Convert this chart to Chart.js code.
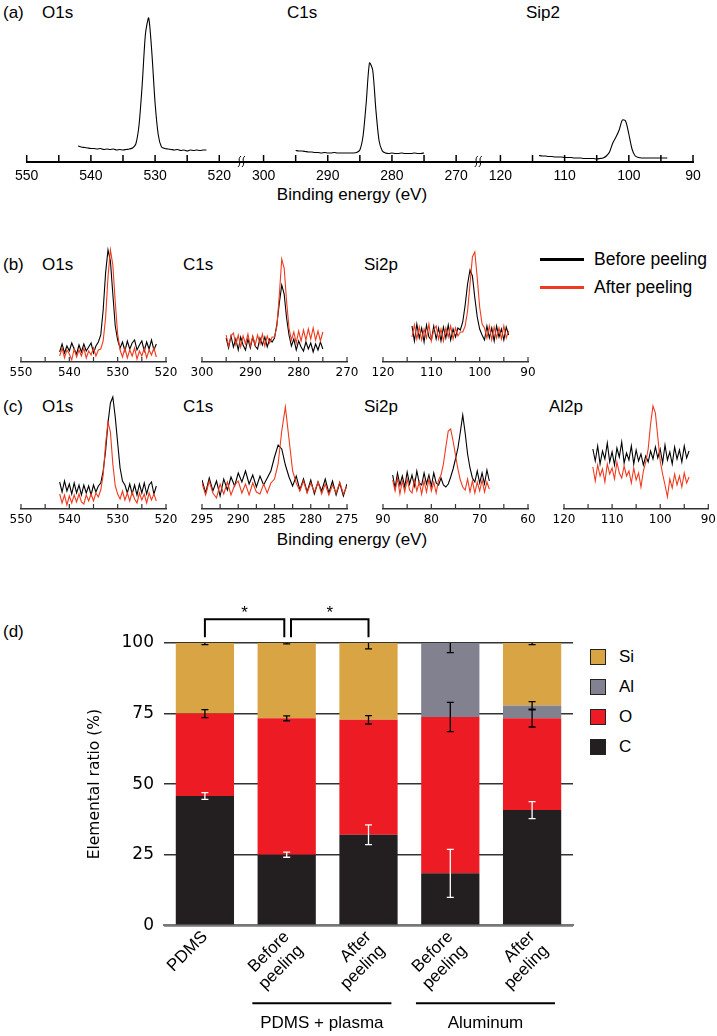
<!DOCTYPE html>
<html>
<head>
<meta charset="utf-8">
<script src="https://cdn.jsdelivr.net/npm/chart.js@4.4.0/dist/chart.umd.min.js"></script>
<style>
  html, body { margin: 0; padding: 0; background: #fff; }
  #page { position: relative; width: 717px; height: 1036px; overflow: hidden;
          font-family: "Liberation Sans", Arial, sans-serif; color: #000; }
  #page canvas { position: absolute; }
  .t { position: absolute; font-size: 17px; line-height: 20px; white-space: nowrap; }
  .c { text-align: center; width: 200px; }
  .ln { position: absolute; width: 44px; height: 3px; }
  .sw { position: absolute; width: 14px; height: 14px; border: 1px solid #222; }
</style>
</head>
<body>
<div id="page">
  <!-- (a) -->
  <div class="t" style="left:3px;top:3px">(a)</div>
  <div class="t" style="left:42px;top:3px">O1s</div>
  <div class="t" style="left:287px;top:3px">C1s</div>
  <div class="t" style="left:526px;top:3px">Sip2</div>
  <div class="t c" style="left:252px;top:185px">Binding energy (eV)</div>
  <!-- (b) -->
  <div class="t" style="left:3px;top:255px">(b)</div>
  <div class="t" style="left:42px;top:255px">O1s</div>
  <div class="t" style="left:183px;top:255px">C1s</div>
  <div class="t" style="left:364px;top:255px">Si2p</div>
  <div class="ln" style="left:540px;top:258px;background:#000"></div>
  <div class="ln" style="left:540px;top:286px;background:#ef3a1d"></div>
  <div class="t" style="left:594px;top:249px;font-size:17.5px;line-height:21px">Before peeling</div>
  <div class="t" style="left:594px;top:277px;font-size:17.5px;line-height:21px">After peeling</div>
  <!-- (c) -->
  <div class="t" style="left:3px;top:397px">(c)</div>
  <div class="t" style="left:42px;top:397px">O1s</div>
  <div class="t" style="left:183px;top:397px">C1s</div>
  <div class="t" style="left:364px;top:397px">Si2p</div>
  <div class="t" style="left:549px;top:397px">Al2p</div>
  <div class="t c" style="left:252px;top:530px">Binding energy (eV)</div>
  <!-- (d) -->
  <div class="t" style="left:3px;top:622px">(d)</div>
  <div class="sw" style="left:590px;top:649px;background:#d9a443"></div>
  <div class="sw" style="left:590px;top:679px;background:#81818f"></div>
  <div class="sw" style="left:590px;top:709px;background:#ed1c24"></div>
  <div class="sw" style="left:590px;top:739px;background:#231f20"></div>
  <div class="t" style="left:619px;top:647px">Si</div>
  <div class="t" style="left:619px;top:677px">Al</div>
  <div class="t" style="left:619px;top:707px">O</div>
  <div class="t" style="left:619px;top:737px">C</div>
</div>

<script>
// ---- spectra: intensities (a.u.), one value every STEP eV from the first energy down ----
const STEP = 0.5;

// (a) survey of PDMS
const aO1s  = [16,15,14.5,14,13.5,13.5,13,13.5,12.5,13, 12.5,13,12,12.5,12,12.5,13,14,18,37, 78,128,144,109,59,27,15,13.5,13,12.5, 12,12.5,11.5,12,11,12,11.5,12,11.5,12, 12];   // 542 -> 522
const aC1s  = [11.5,11,11,10.5,10,10,9.5,9.5,9,9.5, 9,9,9.5,9,9,9,9,9,9,9.5, 12,26,60,99,92,52,21,11,9,8.5, 9,8.5,8.5,9,8.5,8.5,8.5,9,8.5,8.5, 9];     // 295 -> 275
const aSi2p = [6.5,6,6,5.5,5.5,5,5,5,4.5,4.5, 4.5,4,4,4,3.5,3.5,3.5,3.5,3,3.5, 4,6,10,19,25,32,42,41,28,13, 6,4.5,4,4,4,4,4,4,4,4, 4];           // 114 -> 94

// (b) PDMS + plasma, before / after peeling
const bO1sBefore  = [10,18,9,16,11,19,13,8,17,10, 18,11,15,19,9,16,20,27,52,89, 112,101,68,36,22,14,20,11,21,13, 19,22,12,17,21,11,20,13,22,12, 18]; // 542 -> 522
const bO1sAfter   = [6,14,4,12,8,2,13,5,12,6, 14,4,11,7,14,6,12,13,21,44, 85,112,97,60,28,12,5,14,4,12, 6,14,3,11,6,14,4,12,7,14, 5];
const bC1sBefore  = [24,14,26,15,23,12,25,17,12,23, 14,25,16,13,24,17,25,15,23,20, 24,38,59,77,68,44,27,16,23,12, 21,15,11,20,13,19,10,18,12,20, 13]; // 295 -> 275
const bC1sAfter   = [27,16,26,29,17,27,15,26,18,28, 16,26,17,27,18,28,16,26,19,25, 25,36,67,103,94,61,34,22,30,19, 31,21,32,22,33,23,34,22,31,21, 30];
const bSi2pBefore = [36,21,38,24,34,20,37,25,22,36, 23,34,21,35,24,37,22,33,25,34, 32,40,57,78,92,86,64,45,33,27, 22,36,24,34,21,36,25,33,22,35, 27]; // 114 -> 94
const bSi2pAfter  = [25,37,23,35,22,33,24,38,21,32, 36,23,33,21,34,25,36,23,34,26, 30,30,36,51,78,105,110,84,55,38, 34,24,36,22,35,24,34,23,36,24, 31];

// (c) aluminum, before / after peeling
const cO1sBefore  = [27,17,28,18,25,15,26,16,24,14, 24,16,23,14,24,17,23,26,38,58, 86,106,112,92,66,41,28,24,16,25, 15,24,14,25,16,26,15,24,27,15, 23]; // 542 -> 522
const cO1sAfter   = [15,6,14,4,13,6,14,7,15,7, 5,14,8,15,8,16,12,19,34,65, 87,77,45,23,15,10,18,9,16,8, 17,10,6,16,9,15,6,16,9,15, 8];
const cC1sBefore  = [29,16,31,18,28,13,30,19,32,23, 36,27,38,25,34,22,33,24,31,38, 52,64,60,44,32,23,33,19,30,17, 29,15,27,18,30,16,28,14,26,13, 25]; // 295 -> 275
const cC1sAfter   = [26,14,28,16,11,25,15,27,14,24, 28,16,25,14,26,17,15,25,16,26, 30,45,78,102,70,38,26,18,28,16, 26,17,27,15,25,14,24,16,27,15, 23];
const cSi2pBefore = [34,21,36,24,33,22,37,25,34,23, 38,26,24,36,25,34,23,36,26,24, 31,24,22,25,32,40,50,61,77,94, 76,55,41,31,27,38,26,36,25,39, 28]; // 88 -> 68
const cSi2pAfter  = [29,18,31,15,28,17,30,19,16,29, 18,27,15,28,17,30,18,27,16,29, 34,45,62,78,80,68,54,40,29,22, 19,30,17,28,16,27,18,29,17,27, 20];
const cAl2pBefore = [60,48,63,45,58,50,66,47,57,44, 61,52,67,46,56,49,63,45,59,48, 55,44,53,47,58,50,62,51,60,46, 64,49,57,45,62,50,59,47,63,51, 58]; // 114 -> 94
const cAl2pAfter  = [42,28,44,33,40,27,45,35,41,30, 47,36,31,43,33,38,26,41,29,36, 22,38,47,60,85,103,96,72,48,35, 24,12,30,21,35,24,33,22,36,26, 32];

// ---- (d) elemental ratio (%) ----
const samples = ['PDMS', ['Before', 'peeling'], ['After', 'peeling'], ['Before', 'peeling'], ['After', 'peeling']];
const cPct  = [45.8, 25.0, 32.1, 18.4, 40.8];
const oPct  = [29.2, 48.3, 40.7, 55.4, 32.5];
const alPct = [0, 0, 0, 26.2, 4.6];
const siPct = [25.0, 26.7, 27.2, 0, 22.1];
const cErr  = [1.2, 0.9, 3.5, 8.5, 3.0];
const oErr  = [1.4, 0.85, 1.5, 5.2, 3.05];
const alErr = [0, 0, 0, 3.4, 1.3];
const siErr = [0.6, 0.3, 2.1, 0, 0.6];
const groups = [{label: 'PDMS + plasma', first: 1, last: 2}, {label: 'Aluminum', first: 3, last: 4}];
const signif = [[0, 1], [1, 2]];

const RED = '#ef3a1d';

Chart.defaults.font.family = '"Liberation Sans", Arial, sans-serif';
Chart.defaults.color = '#000';
Chart.defaults.animation = false;

const page = document.getElementById('page');
function makeCanvas(left, top, w, h) {
  const cv = document.createElement('canvas');
  cv.width = w; cv.height = h;
  cv.style.left = left + 'px';
  cv.style.top = top + 'px';
  page.appendChild(cv);
  return cv;
}
function toPoints(startE, values, map) {
  return values.map((v, i) => ({x: map(startE - i * STEP), y: v}));
}

// tick marks pointing up from the axis line
const upTicks = {
  id: 'upTicks',
  afterDraw(chart, args, opts) {
    const sc = chart.scales.x, ctx = chart.ctx;
    ctx.save();
    ctx.strokeStyle = opts.color;
    ctx.lineWidth = opts.width;
    sc.ticks.forEach(t => {
      const px = sc.getPixelForValue(t.value);
      ctx.beginPath();
      ctx.moveTo(px, sc.top);
      ctx.lineTo(px, sc.top - opts.len);
      ctx.stroke();
    });
    ctx.restore();
  }
};

// little squiggles where the survey axis is broken
const axisBreaks = {
  id: 'axisBreaks',
  afterDraw(chart, args, opts) {
    const sc = chart.scales.x, ctx = chart.ctx;
    ctx.save();
    ctx.strokeStyle = '#000';
    ctx.lineWidth = 1;
    opts.at.forEach(u => {
      const x = sc.getPixelForValue(u), y = sc.top;
      [-2, 2].forEach(dx => {
        ctx.beginPath();
        ctx.moveTo(x + dx + 1.5, y - 6);
        ctx.bezierCurveTo(x + dx - 3, y - 2, x + dx + 3, y + 1, x + dx - 1.5, y + 5);
        ctx.stroke();
      });
    });
    ctx.restore();
  }
};

// ---- (a) survey with a broken energy axis ----
const aSegments = [{hi: 550, lo: 520}, {hi: 300, lo: 270}, {hi: 120, lo: 90}];
const aGap = 6.9;
const aSpan = 30 + aGap;
function toU(e) {
  const k = aSegments.findIndex(s => e <= s.hi && e >= s.lo);
  return k * aSpan + (aSegments[k].hi - e);
}
function fromU(u) {
  const k = Math.min(2, Math.floor((u + 1e-6) / aSpan));
  return Math.round(aSegments[k].hi - (u - k * aSpan));
}
const aTicks = [];
aSegments.forEach((s, k) => { for (let e = 0; e <= 30; e += 5) aTicks.push(k * aSpan + e); });

new Chart(makeCanvas(0, 0, 717, 207), {
  type: 'line',
  data: {
    datasets: [
      {data: toPoints(542, aO1s, toU), borderColor: '#000'},
      {data: toPoints(295, aC1s, toU), borderColor: '#000'},
      {data: toPoints(114, aSi2p, toU), borderColor: '#000'}
    ]
  },
  options: {
    responsive: false,
    events: [],
    layout: {padding: {left: 26.7, right: 24, top: 10, bottom: 0}},
    elements: {point: {radius: 0}, line: {borderWidth: 1.1, tension: 0.25}},
    plugins: {
      legend: {display: false},
      tooltip: {enabled: false},
      upTicks: {len: 7, width: 1.5, color: '#000'},
      axisBreaks: {at: [30 + aGap / 2, 2 * aSpan - aGap / 2]}
    },
    scales: {
      x: {
        type: 'linear', min: 0, max: 2 * aSpan + 30,
        afterBuildTicks: s => { s.ticks = aTicks.map(v => ({value: v})); },
        afterFit: s => { s.height = 45; },
        grid: {display: false, drawTicks: false},
        border: {display: true, color: '#000', width: 2},
        ticks: {
          autoSkip: false, maxRotation: 0, padding: 5.6, font: {size: 14},
          callback: v => { const e = fromU(v); return e % 10 === 0 ? String(e) : ''; }
        }
      },
      y: {display: false, min: 0, max: 152}
    }
  },
  plugins: [upTicks, axisBreaks]
});

// ---- (b) and (c) small panels ----
function smallPanel(axisX, top, hiE, loE, minor, major, startE, before, after) {
  const padR = Math.min(20, 717 - axisX - 145);
  const cv = makeCanvas(axisX - 20, top, 20 + 145 + padR, 142);
  return new Chart(cv, {
    type: 'line',
    data: {
      datasets: [
        {data: toPoints(startE, after, e => e), borderColor: RED},
        {data: toPoints(startE, before, e => e), borderColor: '#000'}
      ]
    },
    options: {
      responsive: false,
      events: [],
      layout: {padding: {left: 20, right: padR, top: 0, bottom: 0}},
      elements: {point: {radius: 0}, line: {borderWidth: 1.1, tension: 0}},
      plugins: {
        legend: {display: false},
        tooltip: {enabled: false},
        upTicks: {len: 5, width: 1.2, color: '#333'}
      },
      scales: {
        x: {
          type: 'linear', reverse: true, min: loE, max: hiE,
          afterBuildTicks: s => {
            const t = [];
            for (let e = loE; e <= hiE + 1e-9; e += minor) t.push({value: e});
            s.ticks = t;
          },
          afterFit: s => { s.height = 22; },
          grid: {display: false, drawTicks: false},
          border: {display: true, color: '#333', width: 1.5},
          ticks: {
            autoSkip: false, maxRotation: 0, padding: 3.2,
            font: {family: '"DejaVu Sans"', size: 12},
            callback: v => Math.abs(v % major) < 1e-6 ? String(v) : ''
          }
        },
        y: {display: false, min: 0, max: 120}
      }
    },
    plugins: [upTicks]
  });
}

smallPanel(20.7, 242, 550, 520, 5, 10, 542, bO1sBefore, bO1sAfter);
smallPanel(201.7, 242, 300, 270, 5, 10, 295, bC1sBefore, bC1sAfter);
smallPanel(382.7, 242, 120, 90, 5, 10, 114, bSi2pBefore, bSi2pAfter);

smallPanel(20.7, 389, 550, 520, 5, 10, 542, cO1sBefore, cO1sAfter);
smallPanel(201.7, 389, 295, 275, 2.5, 5, 295, cC1sBefore, cC1sAfter);
smallPanel(382.7, 389, 90, 60, 5, 10, 88, cSi2pBefore, cSi2pAfter);
smallPanel(564.3, 389, 120, 90, 5, 10, 114, cAl2pBefore, cAl2pAfter);

// ---- (d) stacked bars ----
const errBars = {
  id: 'errBars',
  afterDatasetsDraw(chart, args, opts) {
    const ctx = chart.ctx, ys = chart.scales.y, a = chart.chartArea;
    const sets = chart.data.datasets;
    ctx.save();
    ctx.beginPath();
    ctx.rect(a.left, a.top, a.right - a.left, a.bottom - a.top);
    ctx.clip();
    ctx.lineWidth = 1.3;
    opts.errors.forEach((errs, i) => {
      const meta = chart.getDatasetMeta(i);
      ctx.strokeStyle = opts.colors[i];
      meta.data.forEach((bar, j) => {
        const e = errs[j];
        if (!e || !sets[i].data[j]) return;
        let top = 0;
        for (let k = 0; k <= i; k++) top += sets[k].data[j];
        const y0 = ys.getPixelForValue(top - e), y1 = ys.getPixelForValue(top + e);
        const x = bar.x, w = 3.5;
        ctx.beginPath();
        ctx.moveTo(x, y0); ctx.lineTo(x, y1);
        ctx.moveTo(x - w, y0); ctx.lineTo(x + w, y0);
        ctx.moveTo(x - w, y1); ctx.lineTo(x + w, y1);
        ctx.stroke();
      });
    });
    ctx.restore();
  }
};

const annotations = {
  id: 'annotations',
  afterDraw(chart) {
    const xs = chart.scales.x, a = chart.chartArea, ctx = chart.ctx;
    ctx.save();
    ctx.strokeStyle = '#000';
    ctx.fillStyle = '#000';
    ctx.lineWidth = 2;
    // significance brackets
    ctx.font = '17px "Liberation Sans"';
    ctx.textAlign = 'center';
    ctx.textBaseline = 'alphabetic';
    signif.forEach(([i, j], n) => {
      const x0 = xs.getPixelForValue(i) + (n ? 4.3 : 0);
      const x1 = xs.getPixelForValue(j) - (n ? 0 : 2.4);
      const yTop = a.top - 23.7, yLeg = a.top - 5.7;
      ctx.beginPath();
      ctx.moveTo(x0, yLeg); ctx.lineTo(x0, yTop); ctx.lineTo(x1, yTop); ctx.lineTo(x1, yLeg);
      ctx.stroke();
      ctx.fillText('*', (x0 + x1) / 2, a.top - 25);
    });
    // sample groups under the axis
    ctx.textBaseline = 'middle';
    groups.forEach(g => {
      const x0 = xs.getPixelForValue(g.first - 0.42), x1 = xs.getPixelForValue(g.last + 0.28);
      ctx.beginPath();
      ctx.moveTo(x0, a.bottom + 78); ctx.lineTo(x1, a.bottom + 78);
      ctx.stroke();
      ctx.fillText(g.label, (x0 + x1) / 2, a.bottom + 98);
    });
    ctx.restore();
  }
};

new Chart(makeCanvas(0, 590, 717, 446), {
  type: 'bar',
  data: {
    labels: samples,
    datasets: [
      {label: 'C', data: cPct, backgroundColor: '#231f20'},
      {label: 'O', data: oPct, backgroundColor: '#ed1c24'},
      {label: 'Al', data: alPct, backgroundColor: '#81818f'},
      {label: 'Si', data: siPct, backgroundColor: '#d9a443'}
    ]
  },
  options: {
    responsive: false,
    events: [],
    layout: {padding: {left: 0, right: 144, top: 53, bottom: 30.7}},
    datasets: {bar: {barPercentage: 0.712, categoryPercentage: 1, borderWidth: 0}},
    plugins: {
      legend: {display: false},
      tooltip: {enabled: false},
      errBars: {errors: [cErr, oErr, alErr, siErr], colors: ['#fff', '#000', '#000', '#000']}
    },
    scales: {
      x: {
        stacked: true,
        grid: {display: false, drawTicks: false},
        border: {display: true, color: '#777', width: 2},
        ticks: {autoSkip: false, minRotation: 45, maxRotation: 45, padding: 2,
                font: {size: 17, lineHeight: 1.15}},
        afterFit: s => { s.height = 80; }
      },
      y: {
        stacked: true, min: 0, max: 100,
        grid: {color: '#333', lineWidth: 1.5, drawTicks: false},
        border: {display: false},
        ticks: {stepSize: 25, padding: 10, font: {family: '"DejaVu Sans"', size: 17}},
        title: {
          display: true, text: 'Elemental ratio (%)',
          font: {family: '"DejaVu Sans"', size: 15.5},
          padding: {top: 85.7, bottom: 0}
        },
        afterFit: s => { s.width = 164; }
      }
    }
  },
  plugins: [errBars, annotations]
});
</script>
</body>
</html>
